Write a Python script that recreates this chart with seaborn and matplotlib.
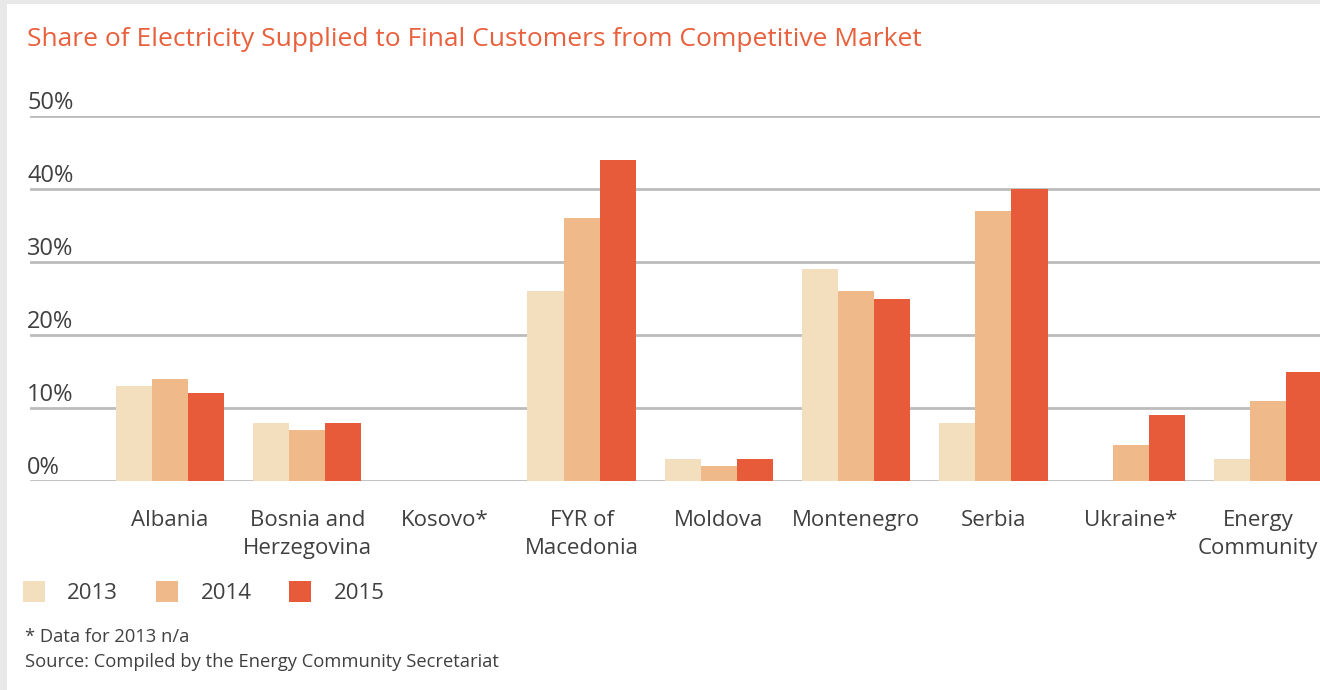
import matplotlib
matplotlib.use("Agg")
import matplotlib.pyplot as plt
from matplotlib.patches import Rectangle
from matplotlib.transforms import ScaledTranslation
import seaborn as sns
import pandas as pd
import numpy as np

# values (% share)
countries = ['Albania', 'Bosnia and\nHerzegovina', 'Kosovo*', 'FYR of\nMacedonia',
             'Moldova', 'Montenegro', 'Serbia', 'Ukraine*', 'Energy\nCommunity']
years = ['2013', '2014', '2015']
share_2013 = [13, 8, np.nan, 26, 3, 29, 8, np.nan, 3]
share_2014 = [14, 7, np.nan, 36, 2, 26, 37, 5, 11]
share_2015 = [12, 8, np.nan, 44, 3, 25, 40, 9, 15]
y_ticks = [0, 10, 20, 30, 40, 50]
colors = ['#f3dfbd', '#efb98a', '#e85b3a']

df = pd.DataFrame({'country': countries * 3,
                   'year': np.repeat(years, len(countries)),
                   'share': share_2013 + share_2014 + share_2015})
df = df.dropna()

sns.set_style('white')
plt.rcParams['font.family'] = ['Open Sans', 'DejaVu Sans']

fig = plt.figure(figsize=(13.2, 6.9), dpi=100, facecolor='#e8e8e8')
fig.patches.append(Rectangle((7 / 1320, 0), 1, 686 / 690, transform=fig.transFigure,
                             facecolor='white', edgecolor='none', zorder=-5))
ax = fig.add_axes([30 / 1320, 1 - 481 / 690, 1 - 30 / 1320, (481 - 116) / 690])
ax.set_facecolor('none')

sns.barplot(data=df, x='country', y='share', hue='year', order=countries,
            hue_order=years, palette=colors, width=0.79, gap=0, saturation=1,
            linewidth=0, legend=False, ax=ax, zorder=3)

ax.set_xlim(-1.02, 8.38)
ax.set_ylim(0, 50)
for sp in ax.spines.values():
    sp.set_visible(False)

# gridlines with labels sitting above them
ax.set_yticks(y_ticks)
ax.set_yticklabels([])
ax.tick_params(axis='y', length=0)
for t in y_ticks:
    ax.axhline(t, color='#bcbcbc', lw=2.0, zorder=1)
    ax.annotate(f'{t}%', xy=(0, t), xycoords=('axes fraction', 'data'),
                xytext=(-2, 1), textcoords='offset points', fontsize=17,
                color='#404040', va='bottom', ha='left')

ax.set_xlabel('')
ax.set_ylabel('')
ax.tick_params(axis='x', length=0, pad=21, labelsize=16, labelcolor='#404040')
for lab in ax.get_xticklabels():
    lab.set_verticalalignment('top')
    lab.set_linespacing(1.4)
# last label is nudged left so it stays inside the picture
last = ax.get_xticklabels()[-1]
last.set_transform(last.get_transform() + ScaledTranslation(-10 / 100, 0, fig.dpi_scale_trans))

fig.text(27 / 1320, 1 - 40 / 690, 'Share of Electricity Supplied to Final Customers from Competitive Market',
         fontsize=19, color='#e8603c', va='center', ha='left')

# legend
handles = [Rectangle((0, 0), 1, 1, facecolor=c, edgecolor='none') for c in colors]
fig.legend(handles, years, loc='upper left', bbox_to_anchor=(14 / 1320, 1 - 572 / 690),
           ncol=3, frameon=False, fontsize=16, handlelength=1.0, handleheight=1.1,
           handletextpad=1.0, columnspacing=1.7, labelcolor='#404040', borderaxespad=0)

fig.text(25 / 1320, 1 - 637 / 690, '* Data for 2013 n/a', fontsize=13.2,
         color='#404040', va='center', ha='left')
fig.text(25 / 1320, 1 - 662 / 690, 'Source: Compiled by the Energy Community Secretariat',
         fontsize=13.2, color='#404040', va='center', ha='left')

fig.savefig('out.png', dpi=100, facecolor=fig.get_facecolor())
